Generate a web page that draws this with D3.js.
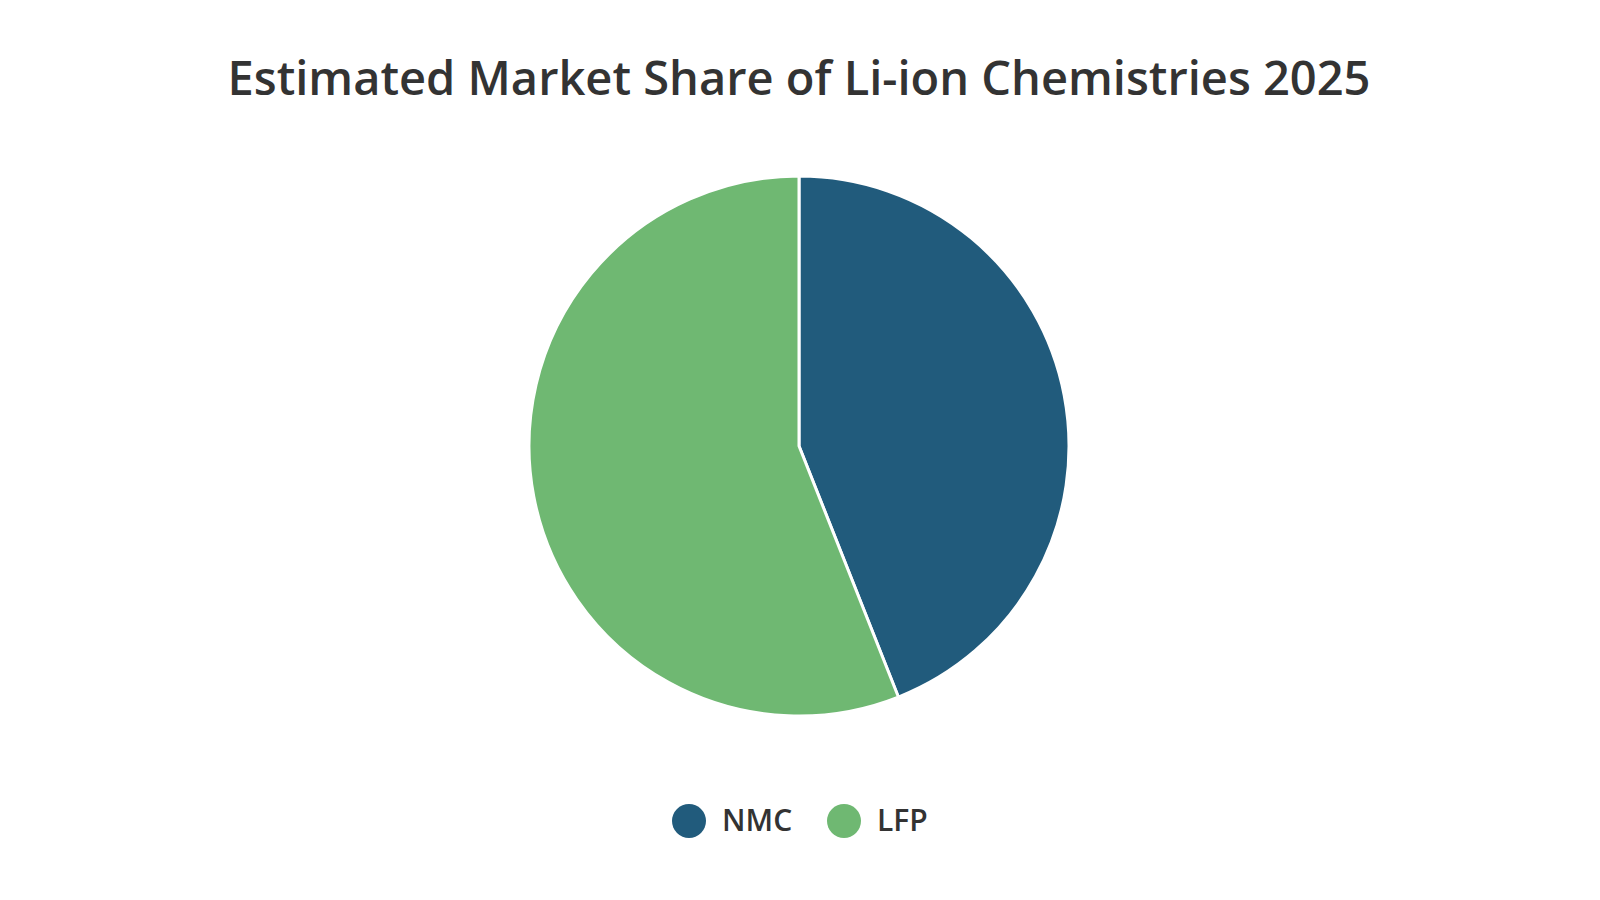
<!DOCTYPE html>
<html><head><meta charset="utf-8">
<script src="https://cdn.jsdelivr.net/npm/d3@7"></script>
<style>body{margin:0;background:#fff}</style></head>
<body><svg id="c" width="1600" height="900"></svg>
<script>
const categories = ["NMC", "LFP"];
const values = [44, 56];
const colors = ["#215b7c", "#6fb872"];
const title = "Estimated Market Share of Li-ion Chemistries 2025";

const svg = d3.select("#c");
const font = "'Open Sans', 'Noto Sans', sans-serif";
svg.append("text").attr("x", 799).attr("y", 95).attr("text-anchor", "middle")
  .attr("font-family", font).attr("font-weight", 600).attr("font-size", 47)
  .attr("fill", "#333").text(title);

const pie = d3.pie().sort(null).value(d => d)(values);
const arc = d3.arc().innerRadius(0).outerRadius(270);
const g = svg.append("g").attr("transform", "translate(799,446)");
g.selectAll("path").data(pie).join("path")
  .attr("d", arc).attr("fill", (d, i) => colors[i])
  .attr("stroke", "#fff").attr("stroke-width", 3);

const x = d3.scalePoint().domain(categories).range([689, 844]);
const lg = svg.append("g");
categories.forEach((c, i) => {
  lg.append("circle").attr("cx", x(c)).attr("cy", 821).attr("r", 17).attr("fill", colors[i]);
  lg.append("text").attr("x", x(c) + 33).attr("y", 831).attr("font-family", font)
    .attr("font-weight", 600).attr("font-size", 30).attr("fill", "#333").text(c);
});
</script></body></html>
